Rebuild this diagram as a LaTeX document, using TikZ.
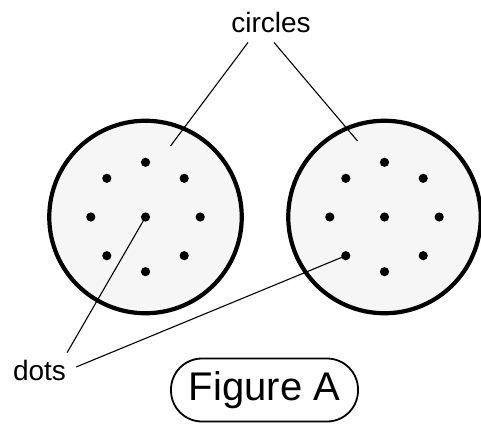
\documentclass[tikz,border=0pt]{standalone}
\usepackage{fontspec}
\setmainfont{Liberation Sans}
\usepackage{tikz}
\usetikzlibrary{positioning}
\definecolor{discfill}{RGB}{246,246,246}

\begin{document}
\begin{tikzpicture}[
  x=1pt, y=-1pt,
  disc/.style={draw, circle, line width=4.2pt, fill=discfill, minimum size=192.5pt,
               inner sep=0pt},
  dot/.style={circle, fill=black, inner sep=0pt, minimum size=9.2pt},
  lbl/.style={inner sep=0pt, anchor=base, font=\fontsize{28}{34}\selectfont},
  leader/.style={line width=1.1pt}
]
  \useasboundingbox (0,0) rectangle (481,423);

  \node[disc] (left) at (145.5,217) {};
  \node[disc] (right) at (384.5,217) {};

  \foreach \c in {left,right} {
    \node[dot] (\c-c) at (\c.center) {};
    \foreach \a in {0,45,...,315}
      \node[dot] (\c-\a) at ([shift={(\a:54.7)}]\c.center) {};
  }

  \coordinate (inL) at ([shift={(25,-71)}]left.center);
  \coordinate (inR) at ([shift={(-27,-76)}]right.center);

  \node[lbl] (circlesLbl) at (271,32) {circles};
  \node[lbl] (dotsLbl) at (39.5,380) {dots};
  \node[draw, line width=1.8pt, rounded corners=31pt, minimum width=187pt,
        minimum height=63pt, inner sep=0pt, font=\fontsize{40}{48}\selectfont]
        (figLbl) at (264.5,390) {Figure A};

  \draw[leader] ([shift={(-23,10)}]circlesLbl.south) -- (inL);
  \draw[leader] ([shift={(3,10)}]circlesLbl.south) -- (inR);
  \draw[leader] ([shift={(1,-7)}]dotsLbl.north east) -- (left-c.center);
  \draw[leader] ([shift={(10,-3)}]dotsLbl.east) -- (right-135.center);
\end{tikzpicture}
\end{document}
